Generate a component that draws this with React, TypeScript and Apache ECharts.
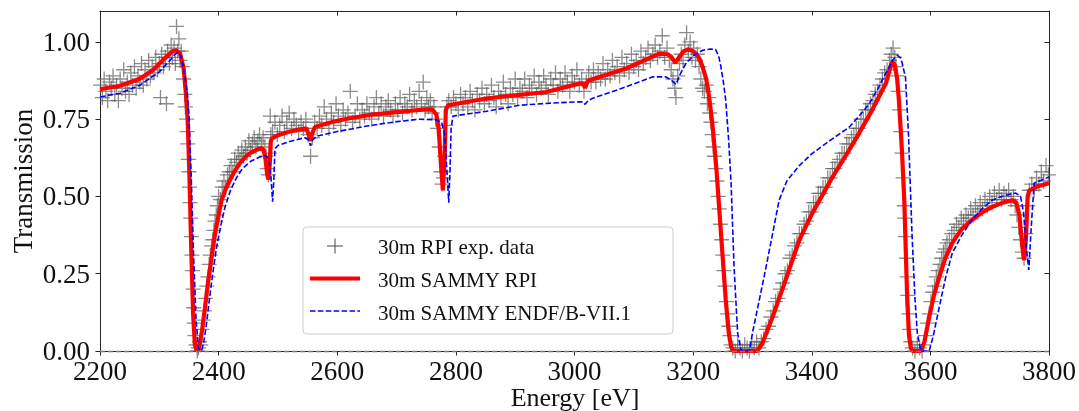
import React, { useEffect, useRef } from "react";
import * as echarts from "echarts";

const X_MIN = 2200;
const X_MAX = 3800;
const X_STEP = 200;
const Y_MIN = 0;
const Y_MAX = 1.1;
const Y_STEP = 0.25;

const seriesNames = ["30m RPI exp. data", "30m SAMMY RPI", "30m SAMMY ENDF/B-VII.1"];
const xAxisTitle = "Energy [eV]";
const yAxisTitle = "Transmission";

// Experimental transmission points [energy eV, transmission]
const expData: [number, number][] = [
  [2201,0.86],[2204,0.82],[2207,0.88],[2210,0.84],[2213,0.81],[2216,0.87],[2219,0.85],[2222,0.89],[2225,0.83],[2228,0.86],
  [2231,0.81],[2234,0.88],[2237,0.85],[2240,0.91],[2243,0.84],[2246,0.87],[2249,0.83],[2252,0.90],[2255,0.86],[2258,0.92],
  [2261,0.85],[2264,0.89],[2267,0.87],[2270,0.93],[2273,0.86],[2276,0.91],[2279,0.88],[2282,0.94],[2285,0.89],[2288,0.92],
  [2291,0.90],[2294,0.95],[2297,0.91],[2300,0.93],[2302,0.82],[2304,0.96],[2307,0.92],[2310,0.95],[2312,0.80],[2314,0.97],
  [2317,0.93],[2320,0.99],[2322,0.95],[2325,0.98],[2327,0.93],[2329,1.05],[2331,0.97],[2333,1.01],[2335,0.94],[2337,0.97],
  [2339,0.92],[2341,0.88],[2343,0.83],[2344,0.79],[2346,0.75],[2347,0.71],[2348,0.67],[2349,0.62],[2350,0.58],[2351,0.53],
  [2352,0.48],[2353,0.43],[2354,0.37],[2355,0.31],[2356,0.26],[2357,0.20],[2358,0.14],[2359,0.09],[2360,0.05],[2362,0.02],
  [2364,0.0],[2366,0.01],[2368,0.03],[2370,0.02],
  [2372,0.07],[2374,0.10],[2376,0.13],[2378,0.17],[2380,0.21],[2382,0.24],[2384,0.28],[2386,0.31],[2388,0.34],[2390,0.36],
  [2392,0.39],[2394,0.42],[2396,0.44],[2398,0.47],[2400,0.50],[2403,0.49],[2406,0.53],[2409,0.55],[2412,0.53],[2415,0.57],
  [2418,0.58],[2421,0.60],[2424,0.58],[2427,0.62],[2430,0.61],[2433,0.64],[2436,0.62],[2439,0.65],[2442,0.63],[2445,0.66],
  [2448,0.64],[2451,0.68],[2454,0.65],[2457,0.67],[2460,0.69],[2463,0.66],[2466,0.68],[2469,0.70],[2472,0.67],[2475,0.69],
  [2478,0.66],[2480,0.63],[2482,0.59],[2484,0.57],[2486,0.64],[2487,0.76],[2488,0.70],
  [2491,0.71],[2495,0.74],[2499,0.70],[2503,0.73],[2507,0.76],[2511,0.71],[2515,0.74],[2519,0.77],[2523,0.72],[2527,0.75],
  [2531,0.73],[2535,0.71],[2539,0.74],[2543,0.72],[2547,0.75],[2551,0.70],[2555,0.63],[2558,0.69],[2562,0.74],[2566,0.72],
  [2570,0.76],[2574,0.73],[2578,0.79],[2582,0.75],[2586,0.72],[2590,0.77],[2594,0.74],[2598,0.80],[2602,0.76],[2606,0.73],
  [2610,0.78],[2614,0.75],[2618,0.77],[2622,0.84],[2626,0.74],[2630,0.76],[2634,0.80],[2638,0.75],[2642,0.78],[2646,0.76],
  [2650,0.80],[2654,0.77],[2658,0.75],[2662,0.79],[2666,0.82],[2670,0.77],[2674,0.80],[2678,0.76],[2682,0.79],[2686,0.81],
  [2690,0.78],[2694,0.76],[2698,0.80],[2702,0.78],[2706,0.82],[2710,0.77],[2714,0.80],[2718,0.79],[2722,0.83],[2726,0.78],
  [2730,0.81],[2734,0.79],[2738,0.84],[2742,0.80],[2745,0.87],[2748,0.78],[2751,0.82],[2754,0.79],[2757,0.81],[2760,0.77],
  [2763,0.79],[2766,0.75],[2769,0.72],[2772,0.66],[2775,0.58],[2777,0.54],[2779,0.56],[2781,0.63],[2783,0.73],[2785,0.79],
  [2788,0.81],
  [2792,0.79],[2796,0.82],[2800,0.80],[2804,0.78],[2808,0.83],[2812,0.80],[2816,0.82],[2820,0.79],[2824,0.84],[2828,0.81],
  [2832,0.78],[2836,0.83],[2840,0.81],[2844,0.85],[2848,0.80],[2852,0.83],[2856,0.81],[2860,0.86],[2864,0.82],[2868,0.79],
  [2872,0.84],[2876,0.82],[2880,0.87],[2884,0.83],[2888,0.80],[2892,0.85],[2896,0.83],[2900,0.88],[2904,0.82],[2908,0.85],
  [2912,0.84],[2916,0.88],[2920,0.82],[2924,0.86],[2928,0.85],[2932,0.89],[2936,0.83],[2940,0.87],[2944,0.85],[2948,0.89],
  [2952,0.86],[2956,0.83],[2960,0.88],[2964,0.86],[2968,0.90],[2972,0.84],[2976,0.88],[2980,0.86],[2984,0.90],[2988,0.87],
  [2992,0.84],[2996,0.89],[3000,0.87],[3004,0.91],[3008,0.86],[3012,0.88],[3016,0.84],[3020,0.87],[3024,0.90],[3028,0.87],
  [3032,0.91],[3036,0.87],[3040,0.90],[3044,0.88],[3048,0.93],[3052,0.88],[3056,0.91],[3060,0.89],[3064,0.94],[3068,0.90],
  [3072,0.92],[3076,0.89],[3080,0.95],[3084,0.91],[3088,0.93],[3092,0.90],[3096,0.96],[3100,0.92],[3104,0.94],[3108,0.91],
  [3112,0.97],[3116,0.93],[3120,0.95],[3124,0.98],[3128,0.94],[3132,0.96],[3136,0.99],[3140,0.95],[3144,0.97],[3148,1.02],
  [3152,0.95],[3156,0.98],
  [3160,0.94],[3163,0.91],[3166,0.88],[3169,0.85],[3171,0.82],[3174,0.89],[3177,0.93],[3180,0.96],[3183,0.94],[3186,0.99],
  [3189,1.03],[3192,0.97],[3195,1.00],[3198,0.95],[3201,0.98],[3204,0.94],[3207,0.96],[3210,0.92],[3213,0.88],[3216,0.85],
  [3219,0.84],[3222,0.86],[3224,0.80],[3226,0.82],[3228,0.77],[3230,0.74],[3232,0.70],[3234,0.66],[3236,0.63],[3238,0.59],
  [3240,0.55],[3242,0.50],[3244,0.46],[3246,0.41],[3248,0.36],[3250,0.31],[3252,0.26],[3254,0.21],[3256,0.16],[3258,0.12],
  [3260,0.08],[3262,0.05],[3264,0.02],
  [3267,0.01],[3271,0.0],[3275,0.02],[3279,0.01],[3283,0.0],[3287,0.02],[3291,0.01],[3295,0.0],[3299,0.02],[3303,0.01],
  [3307,0.03],[3311,0.01],
  [3315,0.03],[3319,0.04],[3323,0.07],[3327,0.08],[3331,0.11],[3335,0.13],[3339,0.16],[3343,0.17],[3347,0.20],[3351,0.22],
  [3355,0.25],[3359,0.26],[3363,0.30],[3367,0.31],[3371,0.34],[3375,0.35],[3379,0.38],[3383,0.38],[3387,0.41],[3391,0.42],
  [3395,0.45],[3399,0.45],[3403,0.48],[3407,0.48],[3411,0.51],[3415,0.51],[3419,0.53],[3423,0.53],[3427,0.56],[3431,0.56],
  [3435,0.59],[3439,0.59],[3443,0.61],[3447,0.62],[3451,0.64],[3455,0.64],[3459,0.67],[3463,0.67],[3467,0.69],[3471,0.70],
  [3475,0.72],[3479,0.72],[3483,0.75],[3487,0.75],[3491,0.78],[3495,0.78],[3499,0.80],[3503,0.81],[3507,0.83],[3511,0.84],
  [3515,0.86],[3519,0.88],[3523,0.90],[3527,0.91],[3531,0.94],[3534,0.96],[3537,0.98],[3540,0.95],[3542,0.92],
  [3544,0.89],[3546,0.84],[3548,0.78],[3550,0.71],[3552,0.64],[3554,0.56],[3556,0.47],[3557,0.43],[3558,0.37],[3560,0.30],
  [3561,0.24],[3562,0.18],[3564,0.12],[3565,0.07],[3567,0.03],
  [3570,0.01],[3574,0.0],[3578,0.02],[3582,0.01],[3586,0.0],[3589,0.02],
  [3592,0.05],[3595,0.09],[3598,0.12],[3601,0.16],[3604,0.19],[3607,0.21],[3610,0.24],[3613,0.26],[3616,0.28],[3619,0.30],
  [3622,0.32],[3625,0.33],[3628,0.35],[3632,0.36],[3636,0.38],[3640,0.39],[3644,0.41],[3648,0.40],[3652,0.43],[3656,0.42],
  [3660,0.44],[3664,0.43],[3668,0.46],[3672,0.44],[3676,0.47],[3680,0.45],[3684,0.48],[3688,0.46],[3692,0.49],[3696,0.47],
  [3700,0.50],[3704,0.48],[3708,0.51],[3712,0.49],[3716,0.52],[3720,0.49],[3724,0.51],[3728,0.50],[3732,0.52],[3736,0.49],
  [3740,0.50],[3743,0.47],[3746,0.44],[3749,0.40],[3752,0.36],[3755,0.32],[3758,0.30],[3761,0.38],[3764,0.47],[3767,0.52],
  [3771,0.54],[3775,0.52],[3779,0.56],[3783,0.54],[3787,0.58],[3791,0.55],[3795,0.60],[3799,0.57],
];

// SAMMY fit with RPI parameters
const sammyRPI: [number, number][] = [
  [2200,0.847],[2234,0.858],[2267,0.881],[2289,0.908],[2306,0.941],[2318,0.962],[2323,0.970],[2328,0.973],[2335,0.963],
  [2341,0.915],[2345,0.83],[2348,0.74],[2351,0.55],[2354,0.32],[2357,0.12],[2360,0.02],[2363,0.0],[2366,0.005],[2369,0.03],
  [2372,0.065],[2377,0.14],[2382,0.22],[2388,0.30],[2394,0.38],[2400,0.44],[2405,0.488],[2412,0.525],[2419,0.553],
  [2427,0.582],[2436,0.608],[2445,0.628],[2453,0.640],[2463,0.650],[2472,0.656],[2476,0.650],[2479,0.62],[2482,0.57],
  [2484,0.555],[2486,0.60],[2488,0.68],[2490,0.688],[2500,0.698],[2520,0.710],[2540,0.718],[2548,0.720],[2551,0.705],
  [2555,0.680],[2558,0.705],[2562,0.724],[2580,0.735],[2600,0.745],[2621,0.753],[2660,0.765],[2700,0.773],[2733,0.779],
  [2752,0.782],[2761,0.780],[2767,0.765],[2771,0.72],[2775,0.60],[2778,0.52],[2781,0.62],[2783,0.78],[2787,0.795],
  [2851,0.817],[2952,0.838],[3008,0.865],[3014,0.866],[3018,0.852],[3022,0.872],[3025,0.876],[3087,0.914],[3143,0.962],
  [3157,0.960],[3163,0.952],[3170,0.932],[3177,0.952],[3184,0.970],[3191,0.975],[3198,0.972],[3205,0.962],[3211,0.945],
  [3216,0.919],[3222,0.88],[3227,0.822],[3233,0.725],[3239,0.595],[3247,0.38],[3255,0.165],[3260,0.06],[3264,0.013],
  [3268,0.0],[3308,0.0],[3317,0.026],[3334,0.11],[3356,0.23],[3379,0.359],[3401,0.446],[3435,0.563],[3463,0.65],
  [3480,0.705],[3502,0.78],[3525,0.866],[3532,0.915],[3536,0.935],[3540,0.925],[3544,0.88],[3547,0.81],[3552,0.65],
  [3556,0.488],[3561,0.165],[3564,0.05],[3567,0.01],[3570,0.0],[3584,0.0],[3590,0.03],[3598,0.11],[3606,0.18],
  [3615,0.24],[3625,0.30],[3637,0.35],[3653,0.395],[3670,0.424],[3687,0.448],[3704,0.466],[3722,0.480],[3738,0.488],
  [3745,0.480],[3750,0.44],[3755,0.34],[3758,0.294],[3761,0.36],[3764,0.50],[3767,0.52],[3780,0.532],[3800,0.543],
];

// SAMMY calculation with ENDF/B-VII.1 parameters
const sammyENDF: [number, number][] = [
  [2200,0.822],[2234,0.834],[2267,0.860],[2300,0.903],[2318,0.940],[2326,0.958],[2331,0.967],[2336,0.955],[2340,0.925],
  [2347,0.837],[2350,0.763],[2354,0.55],[2358,0.30],[2362,0.10],[2366,0.01],[2369,0.0],[2372,0.005],[2375,0.03],
  [2379,0.08],[2384,0.16],[2390,0.25],[2396,0.33],[2403,0.40],[2410,0.46],[2420,0.52],[2430,0.56],[2440,0.59],
  [2455,0.615],[2470,0.628],[2480,0.632],[2485,0.62],[2488,0.57],[2491,0.483],[2493,0.55],[2495,0.655],[2500,0.665],
  [2520,0.678],[2545,0.690],[2551,0.684],[2555,0.664],[2558,0.682],[2565,0.695],[2600,0.710],[2650,0.728],[2700,0.742],
  [2739,0.750],[2767,0.748],[2776,0.74],[2781,0.70],[2785,0.58],[2788,0.48],[2790,0.58],[2792,0.72],[2795,0.760],
  [2850,0.775],[2907,0.795],[2960,0.802],[3008,0.806],[3014,0.806],[3018,0.798],[3023,0.810],[3031,0.818],[3080,0.850],
  [3132,0.887],[3154,0.887],[3162,0.878],[3171,0.863],[3178,0.895],[3188,0.931],[3200,0.955],[3216,0.973],[3230,0.977],
  [3238,0.975],[3243,0.955],[3247,0.918],[3251,0.87],[3255,0.81],[3260,0.68],[3264,0.543],[3269,0.272],[3275,0.058],
  [3281,0.0],[3295,0.0],[3300,0.058],[3311,0.16],[3323,0.272],[3334,0.38],[3345,0.488],[3358,0.55],[3379,0.600],
  [3400,0.638],[3424,0.672],[3463,0.724],[3480,0.76],[3497,0.80],[3512,0.85],[3525,0.90],[3536,0.940],[3544,0.957],
  [3549,0.950],[3552,0.935],[3555,0.91],[3558,0.886],[3563,0.705],[3569,0.38],[3574,0.17],[3578,0.058],[3584,0.0],
  [3598,0.0],[3605,0.05],[3615,0.142],[3626,0.24],[3637,0.317],[3653,0.375],[3670,0.424],[3687,0.460],[3704,0.488],
  [3725,0.503],[3744,0.511],[3752,0.50],[3757,0.45],[3762,0.33],[3766,0.262],[3770,0.40],[3775,0.543],[3800,0.563],
];

const FONT = "'Liberation Serif', 'Times New Roman', Times, serif";
const AXIS_COLOR = "#262626";

export default function App() {
  const ref = useRef<HTMLDivElement>(null);

  useEffect(() => {
    if (!ref.current) return;
    const chart = echarts.init(ref.current, null, { renderer: "svg" });

    const axisLine = { show: true, onZero: false, lineStyle: { color: AXIS_COLOR, width: 1 } };
    const tickOut = { show: true, inside: false, length: 4.5, lineStyle: { color: AXIS_COLOR, width: 1 } };
    const tickIn = { show: true, inside: true, length: 4.5, lineStyle: { color: AXIS_COLOR, width: 1 } };

    const legendX = 303;
    const legendY = 227;
    const rows = [246, 278.5, 311];
    const textRows = [247, 280, 312.5];

    chart.setOption({
      animation: false,
      textStyle: { fontFamily: FONT },
      grid: { left: 100, right: 29, top: 11, bottom: 60, containLabel: false },
      xAxis: [
        {
          type: "value", min: X_MIN, max: X_MAX, interval: X_STEP, position: "bottom",
          axisLine, axisTick: tickOut,
          axisLabel: {
            fontSize: 27, lineHeight: 20, color: "#111", margin: 10, fontFamily: FONT,
            formatter: (v: number) => String(v),
          },
          splitLine: { show: false },
        },
        {
          type: "value", min: X_MIN, max: X_MAX, interval: X_STEP, position: "top",
          axisLine, axisTick: tickIn, axisLabel: { show: false }, splitLine: { show: false },
        },
      ],
      yAxis: [
        {
          type: "value", min: Y_MIN, max: Y_MAX, interval: Y_STEP, position: "left",
          axisLine, axisTick: tickOut,
          axisLabel: {
            fontSize: 27, lineHeight: 20, color: "#111", margin: 10, fontFamily: FONT,
            showMaxLabel: false,
            formatter: (v: number) => (v > 1.0001 ? "" : v.toFixed(2)),
          },
          splitLine: { show: false },
        },
        {
          type: "value", min: Y_MIN, max: Y_MAX, interval: Y_STEP, position: "right",
          axisLine, axisTick: tickIn, axisLabel: { show: false }, splitLine: { show: false },
        },
      ],
      series: [
        {
          name: seriesNames[0],
          type: "scatter",
          data: expData,
          symbol: "path://M0,5L10,5M5,0L5,10",
          symbolSize: 15,
          itemStyle: { color: "transparent", borderColor: "rgba(96,96,96,0.9)", borderWidth: 1.3 },
          markLine: {
            silent: true,
            symbol: ["none", "none"],
            label: { show: false },
            lineStyle: { color: "#777", type: [5, 3], width: 1.3 },
            data: [{ yAxis: 0 }],
          },
          z: 2,
        },
        {
          name: seriesNames[1],
          type: "line",
          data: sammyRPI,
          symbol: "none",
          showSymbol: false,
          lineStyle: { color: "#ff0000", width: 4.2 },
          z: 3,
        },
        {
          name: seriesNames[2],
          type: "line",
          data: sammyENDF,
          symbol: "none",
          showSymbol: false,
          lineStyle: { color: "#0000ff", width: 1.6, type: [5.5, 2.4] },
          z: 4,
        },
      ],
      graphic: [
        {
          type: "text",
          x: 22.5, y: 181, rotation: Math.PI / 2,
          style: { text: yAxisTitle, fontSize: 27, lineHeight: 20, fontFamily: FONT, fill: "#111", align: "center", verticalAlign: "middle" },
        },
        {
          type: "text",
          x: 575, y: 397.5,
          style: { text: xAxisTitle, fontSize: 26, lineHeight: 20, fontFamily: FONT, fill: "#111", align: "center", verticalAlign: "middle" },
        },
        {
          type: "group",
          z: 100,
          children: [
            {
              type: "rect",
              shape: { x: legendX, y: legendY, width: 370, height: 107, r: 4 },
              style: { fill: "rgba(255,255,255,0.8)", stroke: "#cccccc", lineWidth: 1 },
            },
            {
              type: "line",
              shape: { x1: 327, y1: rows[0], x2: 343, y2: rows[0] },
              style: { stroke: "rgba(96,96,96,0.9)", lineWidth: 1.3 },
            },
            {
              type: "line",
              shape: { x1: 335, y1: rows[0] - 7.5, x2: 335, y2: rows[0] + 7.5 },
              style: { stroke: "rgba(96,96,96,0.9)", lineWidth: 1.3 },
            },
            {
              type: "line",
              shape: { x1: 310, y1: rows[1], x2: 360, y2: rows[1] },
              style: { stroke: "#ff0000", lineWidth: 4.2 },
            },
            {
              type: "line",
              shape: { x1: 310, y1: rows[2], x2: 360, y2: rows[2] },
              style: { stroke: "#0000ff", lineWidth: 1.6, lineDash: [5.5, 2.4] },
            },
            ...seriesNames.map((name, i) => ({
              type: "text",
              x: 378, y: textRows[i],
              style: { text: name, fontSize: 21, fontFamily: FONT, fill: "#111", align: "left", verticalAlign: "middle" },
            })),
          ],
        },
      ],
    });

    return () => chart.dispose();
  }, []);

  return <div ref={ref} style={{ position: "fixed", left: 0, top: 0, width: 1079, height: 411 }} />;
}
